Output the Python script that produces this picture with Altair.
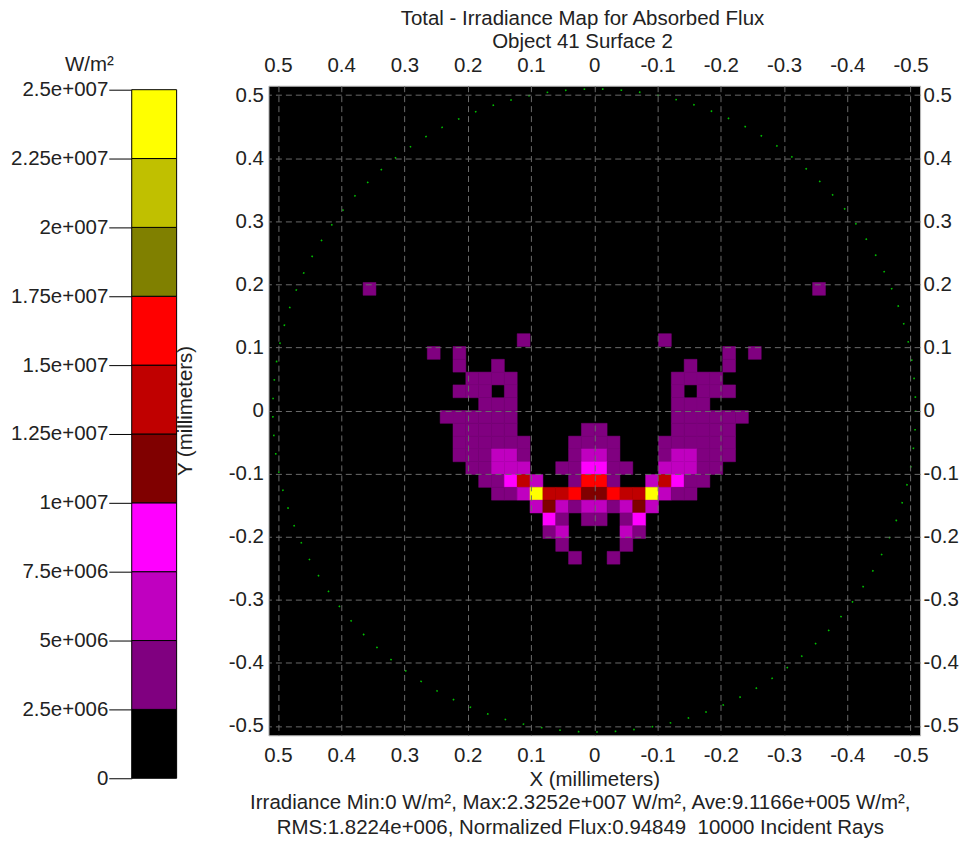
import altair as alt
import pandas as pd

# Detector geometry (mm)
PIXEL_PITCH = 0.0203
HALF_WIDTH = 0.515
APERTURE_RADIUS = 0.508

# Irradiance colour bins (W/m²)
BIN_EDGES = [0, 2.5e6, 5e6, 7.5e6, 1e7, 1.25e7, 1.5e7, 1.75e7, 2e7, 2.25e7, 2.5e7]
BIN_COLORS = ["#000000", "#800080", "#c000c0", "#ff00ff", "#800000",
              "#c00000", "#ff0000", "#808000", "#c0c000", "#ffff00"]

# Irradiance carried by each level code used in the pixel map (W/m²)
LEVEL_IRRADIANCE = [0, 3.6e6, 6.2e6, 8.8e6, 1.13e7, 1.37e7, 1.62e7, 1.86e7, 2.1e7, 2.3252e7]

# Absorbed-flux pixel map: one string per detector row (top to bottom),
# one character per detector column (left to right); '.' means no flux.
FIRST_ROW = -10
FIRST_COL = -18
LEVEL_ROWS = [
    "1..................................1",
    "....................................",
    "....................................",
    "....................................",
    "............1..........1............",
    ".....1.1....................1.1.....",
    ".......1..1..............1..1.......",
    "........1111............1111........",
    ".......111.1............1.111.......",
    ".........111............111.........",
    "......111111............111111......",
    ".......11111.....11.....11111.......",
    ".......111111...1111...111111.......",
    ".......111221...1221...122111.......",
    "........11222..113311..22211........",
    ".........11352..1661..25311.........",
    "..........1129556446559211..........",
    ".............2421221242.............",
    "..............31.11.13..............",
    "..............12....21..............",
    "...............1....1...............",
    "................1..1................",
]

TICKS = [0.5, 0.4, 0.3, 0.2, 0.1, 0, -0.1, -0.2, -0.3, -0.4, -0.5]

TITLE_LINES = ["Total - Irradiance Map for Absorbed Flux", "Object 41 Surface 2"]
FOOTER_LINES = [
    "Irradiance Min:0 W/m², Max:2.3252e+007 W/m², Ave:9.1166e+005 W/m²,",
    "RMS:1.8224e+006, Normalized Flux:0.94849\u00a0 10000 Incident Rays",
]

MAIN_W, MAIN_H = 653, 651
BAR_W, BAR_H = 45, 690      # colour bar body
BAR_HEADROOM = 4            # blank strip above the colour bar body
TEXT = "#222222"
FS = 20.5

# ---- detector cells -------------------------------------------------------
records = []
for ri, row in enumerate(LEVEL_ROWS):
    r = FIRST_ROW + ri
    for ci, ch in enumerate(row):
        if ch == ".":
            continue
        c = FIRST_COL + ci
        records.append({
            "x0": -c * PIXEL_PITCH, "x1": -(c + 1) * PIXEL_PITCH,
            "y0": -r * PIXEL_PITCH, "y1": -(r + 1) * PIXEL_PITCH,
            "irradiance": LEVEL_IRRADIANCE[int(ch)],
        })
cells_df = pd.DataFrame(records)

color_scale = alt.Scale(type="threshold", domain=BIN_EDGES[1:-1], range=BIN_COLORS)
x_scale = alt.Scale(domain=[-HALF_WIDTH, HALF_WIDTH], reverse=True, nice=False, zero=False)
y_scale = alt.Scale(domain=[-HALF_WIDTH, HALF_WIDTH], nice=False, zero=False)


def axis(orient, grid, pad, title=None, title_pad=0):
    kw = dict(
        orient=orient, values=TICKS, labelExpr="toString(datum.value)",
        grid=grid, ticks=False, domain=False, labelFontSize=FS, labelColor=TEXT,
        labelPadding=pad, labelFlush=False, labelOverlap=False, zindex=1,
    )
    if grid:
        kw.update(gridColor="#6a6a6a", gridDash=[6, 4], gridWidth=1)
    if title:
        kw.update(title=title, titleFontSize=FS, titleFontWeight="normal",
                  titleColor=TEXT, titlePadding=title_pad)
    else:
        kw.update(title=None)
    return alt.Axis(**kw)


cells = alt.Chart(cells_df).mark_rect(strokeWidth=0.5).encode(
    x=alt.X("x0:Q", scale=x_scale, axis=axis("bottom", True, 10, "X (millimeters)", 4)),
    x2="x1:Q",
    y=alt.Y("y0:Q", scale=y_scale, axis=axis("left", True, 5, "Y (millimeters)", 33)),
    y2="y1:Q",
    fill=alt.Fill("irradiance:Q", scale=color_scale, legend=None),
    stroke=alt.Stroke("irradiance:Q", scale=color_scale, legend=None),
)

# aperture outline, drawn as a dotted ring
px_per_mm = MAIN_W / (2 * HALF_WIDTH)
ring_df = pd.DataFrame({"cx": [0.0], "cy": [0.0]})
ring = alt.Chart(ring_df).mark_point(
    shape="circle", filled=False, color="#00c000", opacity=1,
    size=(2 * APERTURE_RADIUS * px_per_mm) ** 2,
    strokeWidth=1.6, strokeDash=[1.6, 17],
).encode(
    x=alt.X("cx:Q", scale=x_scale, axis=axis("top", False, 10)),
    y=alt.Y("cy:Q", scale=y_scale, axis=axis("right", False, 3)),
)

main = alt.layer(cells, ring).resolve_axis(x="independent", y="independent").properties(
    width=MAIN_W, height=MAIN_H,
    view=alt.ViewBackground(fill="black", stroke="#bdbdbd", strokeWidth=1),
    title=alt.Title(FOOTER_LINES, orient="bottom", anchor="middle", frame="group",
                    fontSize=FS, fontWeight="normal", lineHeight=25, color=TEXT,
                    dx=-14, offset=3),
)

# ---- colour bar -----------------------------------------------------------
bar_top = BIN_EDGES[-1] * (BAR_H + BAR_HEADROOM) / BAR_H
bands_df = pd.DataFrame({"lo": BIN_EDGES[:-1], "hi": BIN_EDGES[1:]})
cbar = alt.Chart(bands_df).mark_rect(stroke="black", strokeWidth=1).encode(
    y=alt.Y("lo:Q", scale=alt.Scale(domain=[BIN_EDGES[0], bar_top], nice=False, zero=False),
            axis=alt.Axis(values=BIN_EDGES, title=None, grid=False, domain=False,
                          tickSize=23, tickColor="black", tickWidth=1,
                          labelExpr="datum.value == 0 ? '0' : replace(format(datum.value, '~e'), 'e+', 'e+00')",
                          labelFontSize=FS, labelColor=TEXT, labelPadding=1,
                          labelOverlap=False, labelFlush=False)),
    y2="hi:Q",
    fill=alt.Fill("lo:Q", scale=color_scale, legend=None),
).properties(
    width=BAR_W, height=BAR_H + BAR_HEADROOM,
    view=alt.ViewBackground(strokeWidth=0),
    title=alt.Title("W/m²", anchor="middle", fontSize=FS, fontWeight="normal",
                    color=TEXT, offset=0, dx=-65, dy=-4),
)

chart = alt.hconcat(cbar, main, spacing=-3).properties(
    title=alt.Title(TITLE_LINES, anchor="middle", fontSize=FS, fontWeight="normal",
                    lineHeight=23, color=TEXT, dx=98, offset=3),
    padding={"left": 10, "top": 8, "right": 0, "bottom": 0},
).configure(font="Liberation Sans")

chart.save("out.html", embed_options={"renderer": "svg", "actions": False})
